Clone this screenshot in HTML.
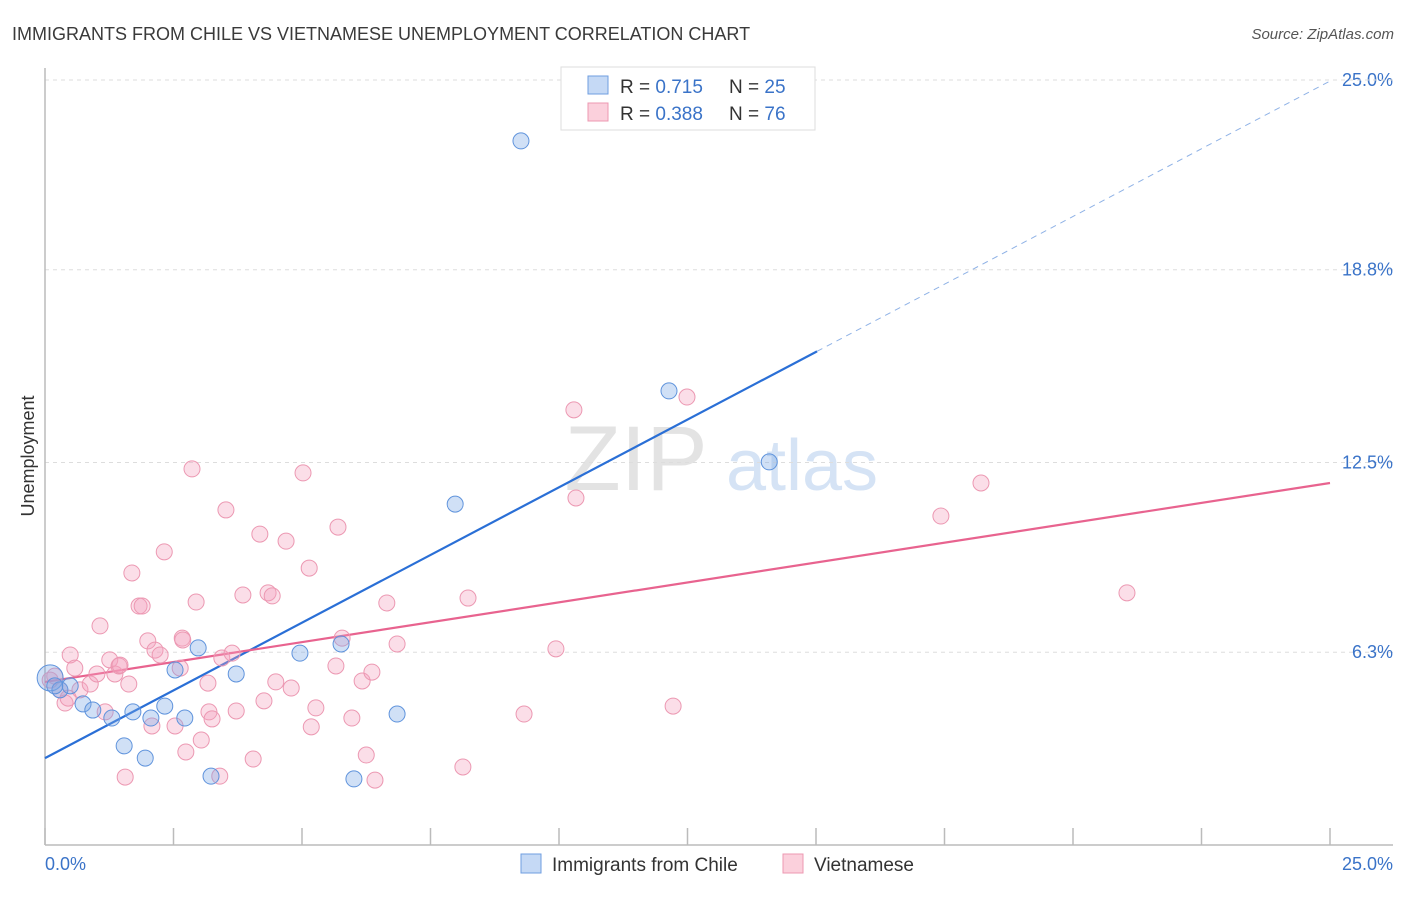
<!DOCTYPE html>
<html><head><meta charset="utf-8"><style>
body{margin:0;background:#fff;font-family:"Liberation Sans",sans-serif}
svg text{font-family:"Liberation Sans",sans-serif}
</style></head><body>
<svg id="chart" width="1406" height="892" viewBox="0 0 1406 892">
<text x="12" y="40" font-size="18" fill="#3a3a3a">IMMIGRANTS FROM CHILE VS VIETNAMESE UNEMPLOYMENT CORRELATION CHART</text>
<text x="1394" y="39" font-size="15" fill="#555" font-style="italic" text-anchor="end">Source: ZipAtlas.com</text>
<text x="34" y="456" font-size="18" fill="#333" text-anchor="middle" transform="rotate(-90 34 456)">Unemployment</text>
<g>
<text x="636" y="490" font-size="92" fill="#e3e3e3" font-family="Liberation Serif,serif" text-anchor="middle">ZIP</text>
<text x="802" y="490" font-size="72" fill="#d5e3f5" text-anchor="middle">atlas</text>
</g>
<g id="grid"></g>
<g id="axes"></g>
<g id="lines"></g>
<g id="points"></g>
<g>
<rect x="561" y="67" width="254" height="63" fill="#fff" stroke="#ddd"/>
<rect x="588" y="76" width="20" height="18" fill="#c5d9f5" stroke="#6f9ee0"/>
<rect x="588" y="103" width="20" height="18" fill="#fbd0dc" stroke="#ec98b2"/>
<text x="620" y="93" font-size="19" fill="#333">R = <tspan fill="#3a73c8">0.715</tspan></text>
<text x="729" y="93" font-size="19" fill="#333">N = <tspan fill="#3a73c8">25</tspan></text>
<text x="620" y="120" font-size="19" fill="#333">R = <tspan fill="#3a73c8">0.388</tspan></text>
<text x="729" y="120" font-size="19" fill="#333">N = <tspan fill="#3a73c8">76</tspan></text>
</g>
<g>
<rect x="521" y="854" width="20" height="19" fill="#c5d9f5" stroke="#6f9ee0"/>
<text x="552" y="871" font-size="19" fill="#333">Immigrants from Chile</text>
<rect x="783" y="854" width="20" height="19" fill="#fbd0dc" stroke="#ec98b2"/>
<text x="814" y="871" font-size="19" fill="#333">Vietnamese</text>
</g>
</svg>
<script>
const yTicks=[6.3,12.5,18.8,25.0];
const yTickLabels=["6.3%","12.5%","18.8%","25.0%"];
const xTickCount=10;
const xLabels=["0.0%","25.0%"];
const chileX=[0.10,0.29,0.49,0.74,0.93,1.30,1.54,1.71,1.95,2.06,2.33,2.53,2.72,2.98,3.23,3.72,4.96,5.76,6.01,6.85,7.98,9.26,12.14,14.09,0.19];
const chileY=[5.46,5.07,5.20,4.61,4.41,4.15,3.24,4.35,2.84,4.15,4.54,5.72,4.15,6.44,2.25,5.59,6.27,6.57,2.16,4.28,11.14,23.01,14.84,12.52,5.20];
const vietX=[0.10,0.19,0.29,0.39,0.49,0.58,0.68,0.88,1.01,1.07,1.17,1.26,1.36,1.44,1.56,1.63,1.69,1.83,1.89,2.00,2.08,2.14,2.24,2.32,2.53,2.63,2.67,2.74,2.86,2.94,3.04,3.17,3.19,3.25,3.44,3.52,3.64,3.72,3.85,4.05,4.18,4.26,4.34,4.42,4.49,4.69,4.79,5.02,5.14,5.18,5.27,5.66,5.70,5.78,5.97,6.17,6.25,6.36,6.42,6.65,6.85,8.13,8.23,9.32,9.94,10.29,10.33,12.22,12.49,17.43,18.21,21.05,3.40,1.46,0.45,2.68];
const vietY=[5.39,5.52,5.07,4.64,6.21,5.78,5.07,5.26,5.59,7.16,4.35,6.05,5.59,5.85,2.22,5.26,8.89,7.81,7.81,6.67,3.89,6.37,6.21,9.58,3.89,5.78,6.76,3.04,12.29,7.94,3.43,5.29,4.35,4.12,6.11,10.95,6.27,4.38,8.17,2.81,10.16,4.71,8.24,8.14,5.33,9.93,5.13,12.16,9.05,3.86,4.48,5.85,10.39,6.76,4.15,5.36,2.94,5.65,2.12,7.91,6.57,2.55,8.07,4.28,6.41,14.22,11.34,4.54,14.64,10.75,11.83,8.24,2.25,5.88,4.80,6.70];
const chileFit=[2.84,0.885];
const vietFit=[5.33,0.26];
const X0=45,X1=1330,Y0=845,Y1=80;
const sx=v=>X0+(X1-X0)*v/25;
const sy=v=>Y0-(Y0-Y1)*v/25;
const NS="http://www.w3.org/2000/svg";
function mk(tag,attrs,parent){const e=document.createElementNS(NS,tag);for(const k in attrs)e.setAttribute(k,attrs[k]);document.getElementById(parent).appendChild(e);return e;}
yTicks.forEach((t,i)=>{
 const g=mk('line',{x1:X0,x2:1393,y1:sy(t),y2:sy(t),stroke:'#ddd','stroke-dasharray':'4,4'},'grid');
 
 
 const l=mk('text',{x:1393,y:sy(t)+6,'font-size':18,fill:'#3a73c8','text-anchor':'end'},'grid');
 l.textContent=yTickLabels[i];
 
 
});
const topLine=mk('line',{x1:X0,x2:1393,y1:Y1,y2:Y1,stroke:'#ddd','stroke-dasharray':'4,4'},'grid');


const ya=mk('line',{x1:X0,x2:X0,y1:68,y2:Y0,stroke:'#bbb','stroke-width':1.5},'axes');


const xa=mk('line',{x1:X0,x2:1393,y1:Y0,y2:Y0,stroke:'#bbb','stroke-width':1.5},'axes');


for(let i=0;i<=xTickCount;i++){
 const x=sx(25*i/xTickCount);
 const t=mk('line',{x1:x,x2:x,y1:828,y2:Y0,stroke:'#bbb','stroke-width':1.5},'axes');
 
 
}
const xl0=mk('text',{x:45,y:870,'font-size':18,fill:'#3a73c8'},'axes');xl0.textContent=xLabels[0];


const xl1=mk('text',{x:1393,y:870,'font-size':18,fill:'#3a73c8','text-anchor':'end'},'axes');xl1.textContent=xLabels[1];


vietX.forEach((v,i)=>{
 const c=mk('circle',{cx:sx(v),cy:sy(vietY[i]),r:8,fill:'rgba(244,160,188,0.35)',stroke:'#ec98b2','stroke-width':1},'points');
 
 
});
chileX.forEach((v,i)=>{
 const c=mk('circle',{cx:sx(v),cy:sy(chileY[i]),r:i===0?13:8,fill:'rgba(120,165,230,0.35)',stroke:'#5f93dc','stroke-width':1},'points');
 
 
});
const cEnd=15.02;
const b1=mk('line',{x1:sx(0),y1:sy(chileFit[0]),x2:sx(cEnd),y2:sy(chileFit[0]+chileFit[1]*cEnd),stroke:'#2a6fd6','stroke-width':2.2},'lines');


const b2=mk('line',{x1:sx(cEnd),y1:sy(chileFit[0]+chileFit[1]*cEnd),x2:sx(25),y2:sy(chileFit[0]+chileFit[1]*25),stroke:'#8fb2e6','stroke-width':1,'stroke-dasharray':'6,5'},'lines');


const p1=mk('line',{x1:sx(0),y1:sy(vietFit[0]),x2:sx(25),y2:sy(vietFit[0]+vietFit[1]*25),stroke:'#e8638f','stroke-width':2.2},'lines');


</script>
</body></html>
